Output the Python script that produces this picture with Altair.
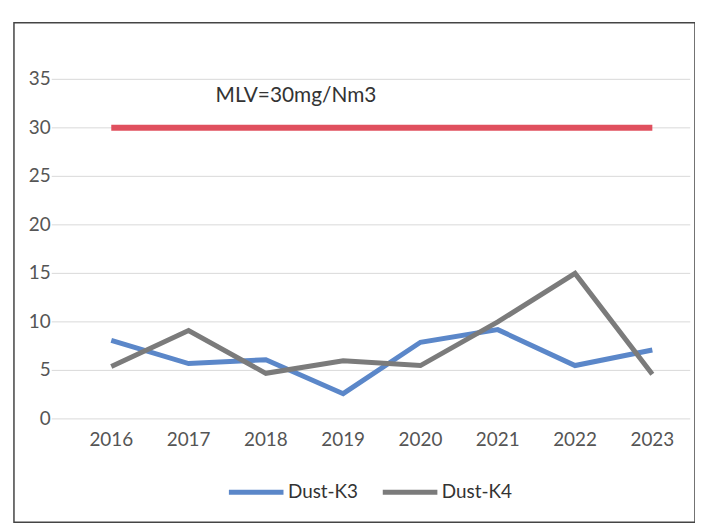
import altair as alt
import pandas as pd

years = [2016, 2017, 2018, 2019, 2020, 2021, 2022, 2023]
dust_k3 = [8.1, 5.7, 6.1, 2.6, 7.9, 9.2, 5.5, 7.1]
dust_k4 = [5.4, 9.1, 4.7, 6.0, 5.5, 10.0, 15.0, 4.6]
mlv = 30
mlv_label = "MLV=30mg/Nm3"
y_ticks = [0, 5, 10, 15, 20, 25, 30, 35]
series_names = ["Dust-K3", "Dust-K4"]
series_colors = ["#5b87c9", "#7b7b7b"]

FONT = "Lato"
x_dom = [2014.741, 2023.552]
y_dom = [-10.64, 40.83]
xs = alt.Scale(domain=x_dom, nice=False, zero=False)
ys = alt.Scale(domain=y_dom, nice=False, zero=False)

series_df = pd.DataFrame(
    {"year": years * 2,
     "value": dust_k3 + dust_k4,
     "series": ["Dust-K3"] * len(years) + ["Dust-K4"] * len(years)}
)
mlv_df = pd.DataFrame({"year": years, "value": [mlv] * len(years)})
grid_df = pd.DataFrame({"v": y_ticks, "x1": [2015.23] * len(y_ticks), "x2": [2023.49] * len(y_ticks)})
ylab_df = pd.DataFrame({"v": y_ticks, "label": [str(t) for t in y_ticks]})
xlab_df = pd.DataFrame({"year": years, "label": [str(y) for y in years]})
ann_df = pd.DataFrame({"x": [2018.39], "y": [33.3], "text": [mlv_label]})

grid = alt.Chart(grid_df).mark_rule(color="#d9d9d9", strokeWidth=1).encode(
    x=alt.X("x1:Q", scale=xs, axis=None), x2="x2:Q",
    y=alt.Y("v:Q", scale=ys, axis=None),
)

ylabels = alt.Chart(ylab_df).mark_text(
    align="right", baseline="middle", font=FONT, fontSize=19, color="#555555"
).encode(x=alt.value(37), y=alt.Y("v:Q", scale=ys, axis=None), text="label:N")

xlabels = alt.Chart(xlab_df).mark_text(
    align="center", baseline="middle", font=FONT, fontSize=19, color="#555555"
).encode(x=alt.X("year:Q", scale=xs, axis=None), y=alt.value(420), text="label:N")

mlv_line = alt.Chart(mlv_df).mark_line(color="#e0505e", strokeWidth=6).encode(
    x=alt.X("year:Q", scale=xs, axis=None), y=alt.Y("value:Q", scale=ys, axis=None)
)

ann = alt.Chart(ann_df).mark_text(
    align="center", baseline="middle", font=FONT, fontSize=21, color="#333333"
).encode(x=alt.X("x:Q", scale=xs, axis=None), y=alt.Y("y:Q", scale=ys, axis=None), text="text:N")

lines = alt.Chart(series_df).mark_line(strokeWidth=5).encode(
    x=alt.X("year:Q", scale=xs, axis=None),
    y=alt.Y("value:Q", scale=ys, axis=None),
    color=alt.Color(
        "series:N",
        scale=alt.Scale(domain=series_names, range=series_colors),
        legend=alt.Legend(
            title=None, orient="none", direction="horizontal",
            legendX=214, legendY=443,
            symbolType="stroke", symbolSize=3025, symbolStrokeWidth=5,
            labelFont=FONT, labelFontSize=19, labelColor="#333333",
            labelOffset=2, columnPadding=14,
        ),
    ),
)

chart = alt.layer(grid, ylabels, xlabels, mlv_line, ann, lines).properties(
    width=686, height=503,
    background="white",
    autosize=alt.AutoSizeParams(type="none"),
    padding={"left": 6, "top": 13, "right": 0, "bottom": 0},
).configure_view(stroke="#444444", strokeWidth=1.5)

chart.save("out.html", embed_options={"renderer": "svg", "actions": False})
